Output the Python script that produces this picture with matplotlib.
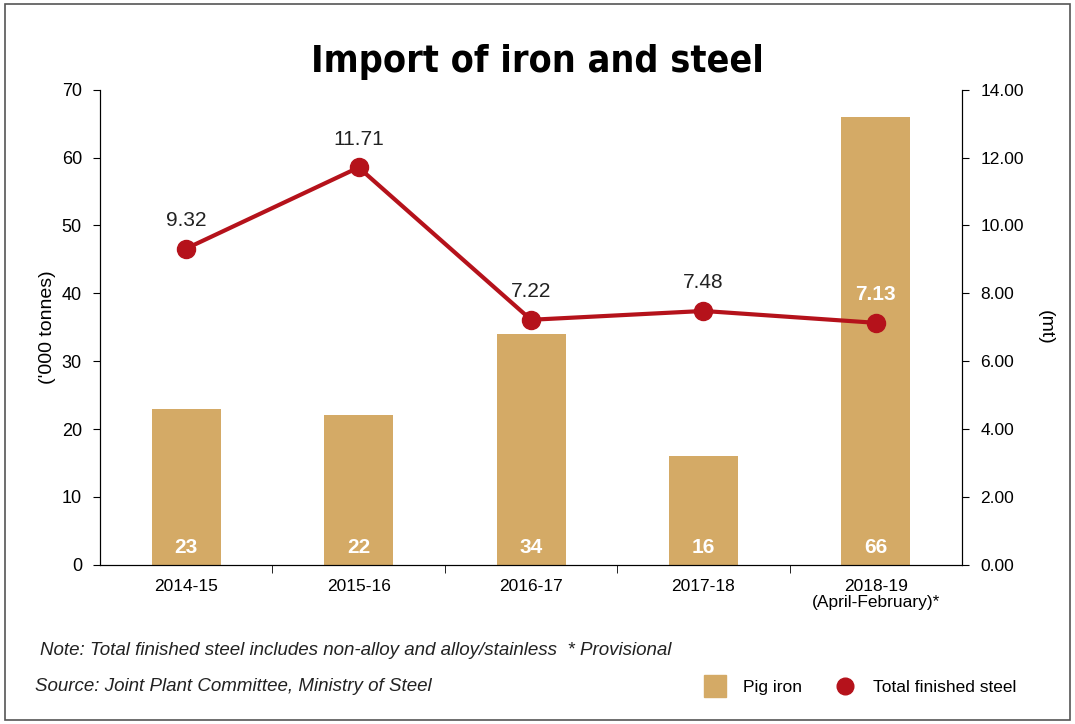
import matplotlib
matplotlib.use("Agg")
import matplotlib.pyplot as plt
from matplotlib.patches import Rectangle
from matplotlib.lines import Line2D

categories = ["2014-15", "2015-16", "2016-17", "2017-18", "2018-19\n(April-February)*"]
pig_iron = [23, 22, 34, 16, 66]
steel = [9.32, 11.71, 7.22, 7.48, 7.13]
left_ticks = [0, 10, 20, 30, 40, 50, 60, 70]
right_ticks = [0, 2, 4, 6, 8, 10, 12, 14]

FONT = ["Liberation Sans Narrow", "Liberation Sans", "DejaVu Sans"]
plt.rcParams['font.family'] = FONT
BAR = "#D4AA66"
RED = "#B5121B"

fig = plt.figure(figsize=(10.75, 7.24), dpi=100)
fig.patches.append(Rectangle((0.005, 0.006), 0.99, 0.988, transform=fig.transFigure,
                             fill=False, edgecolor="#555555", lw=1.2))
ax = fig.add_axes([0.093, 0.22, 0.802, 0.656])
x = list(range(len(categories)))
ax.bar(x, pig_iron, width=0.4, color=BAR, zorder=2)
ax.set_xlim(-0.5, 4.5)
ax.set_ylim(0, 70)
ax.set_yticks(left_ticks)
ax.tick_params(axis='y', labelsize=13, pad=8, direction='out', length=5)
ax.set_xticks(x)
ax.set_xticklabels(categories, fontsize=12.5, va='top', linespacing=1.1)
ax.set_xticks([0.5, 1.5, 2.5, 3.5], minor=True)
ax.tick_params(axis='x', which='major', length=0, pad=10)
ax.tick_params(axis='x', which='minor', length=6)
ax.spines['top'].set_visible(False)
ax.set_ylabel("('000 tonnes)", fontsize=14, labelpad=4)
for xi, v in zip(x, pig_iron):
    ax.text(xi, 2.5, str(v), ha='center', va='center', color='white',
            fontsize=15, fontweight='bold', zorder=3)

ax2 = ax.twinx()
ax2.set_ylim(0, 14)
ax2.set_yticks(right_ticks)
ax2.set_yticklabels([f"{t:.2f}" for t in right_ticks])
ax2.tick_params(axis='y', labelsize=12.5, length=5, pad=8)
ax2.spines['top'].set_visible(False)
ax2.set_ylabel("(mt)", fontsize=14, rotation=270, labelpad=22)
ax2.plot(x, steel, color=RED, lw=3, marker='o', ms=13, zorder=4)
for i, (xi, v) in enumerate(zip(x, steel)):
    if i == len(steel) - 1:
        ax2.text(xi, v + 0.55, f"{v:.2f}", ha='center', va='bottom', color='white',
                 fontsize=15, fontweight='bold')
    else:
        ax2.text(xi, v + 0.55, f"{v:.2f}", ha='center', va='bottom', color='#222222',
                 fontsize=15)

fig.text(0.5, 0.915, "Import of iron and steel", ha='center', va='center',
         fontsize=27, fontweight='bold', family=["DejaVu Sans"], fontstretch='condensed')
fig.text(0.037, 0.095, "Note: Total finished steel includes non-alloy and alloy/stainless  * Provisional",
         fontsize=13.5, style='italic', color='#222222')
fig.text(0.033, 0.045, "Source: Joint Plant Committee, Ministry of Steel",
         fontsize=13.5, style='italic', color='#222222')
handles = [Line2D([], [], ls='none', marker='s', ms=16, color=BAR),
           Line2D([], [], ls='none', marker='o', ms=12, color=RED)]
fig.legend(handles, ["Pig iron", "Total finished steel"], loc='center right',
           bbox_to_anchor=(0.96, 0.05), ncol=2, frameon=False, fontsize=12.5,
           handletextpad=0.6, columnspacing=1.5)
fig.savefig("out.png", dpi=100)
